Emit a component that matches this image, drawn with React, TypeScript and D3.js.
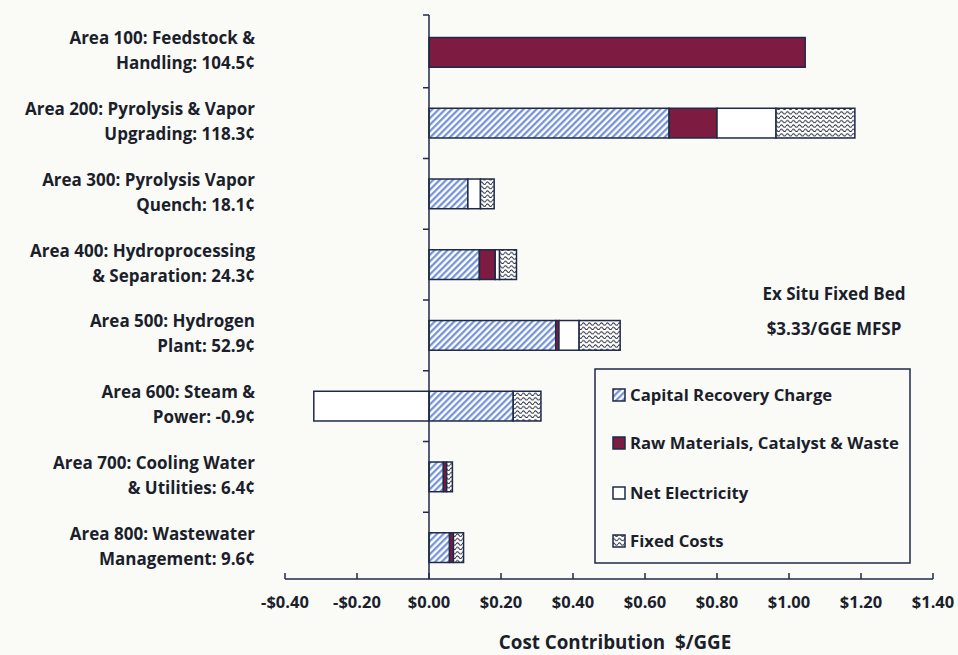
import React from "react";
import * as d3 from "d3";

const labelLine1 = [
  "Area 100: Feedstock &",
  "Area 200: Pyrolysis & Vapor",
  "Area 300: Pyrolysis Vapor",
  "Area 400: Hydroprocessing",
  "Area 500: Hydrogen",
  "Area 600: Steam &",
  "Area 700: Cooling Water",
  "Area 800: Wastewater",
];
const labelLine2 = [
  "Handling: 104.5¢",
  "Upgrading: 118.3¢",
  "Quench: 18.1¢",
  "& Separation: 24.3¢",
  "Plant: 52.9¢",
  "Power: -0.9¢",
  "& Utilities: 6.4¢",
  "Management: 9.6¢",
];
const areas = ["A100", "A200", "A300", "A400", "A500", "A600", "A700", "A800"];

const capitalRecovery = [0, 0.667, 0.108, 0.14, 0.352, 0.234, 0.04, 0.057];
const rawMaterials = [1.045, 0.133, 0, 0.044, 0.009, 0, 0.009, 0.011];
const netElectricity = [0, 0.164, 0.035, 0.012, 0.056, -0.32, 0, 0];
const fixedCosts = [0, 0.219, 0.038, 0.047, 0.114, 0.077, 0.016, 0.028];

const seriesKeys = ["capital", "raw", "net", "fixed"];
const seriesNames = [
  "Capital Recovery Charge",
  "Raw Materials, Catalyst & Waste",
  "Net Electricity",
  "Fixed Costs",
];
const xTicks = [-0.4, -0.2, 0, 0.2, 0.4, 0.6, 0.8, 1.0, 1.2, 1.4];

const NAVY = "#1e2a48";
const MAROON = "#7e1b40";
const TEXT = "#1b1f2c";
const FONT = "'Open Sans', Lato, sans-serif";

export default function App() {
  const W = 958;
  const H = 655;
  const x = d3.scaleLinear().domain([-0.4, 1.4]).range([285, 933]);
  const pad = 0.58;
  const y = d3
    .scaleBand<string>()
    .domain(areas)
    .range([17, 583])
    .paddingInner(pad)
    .paddingOuter(pad / 2);
  const axisY = 579;
  const axisTop = 15;

  const table = areas.map((a, i) => ({
    area: a,
    capital: capitalRecovery[i],
    raw: rawMaterials[i],
    net: netElectricity[i],
    fixed: fixedCosts[i],
  }));
  const stacked = d3
    .stack<any>()
    .keys(seriesKeys)
    .offset(d3.stackOffsetDiverging)(table);

  const fills: Record<string, string> = {
    capital: "url(#hatch)",
    raw: MAROON,
    net: "#ffffff",
    fixed: "url(#waves)",
  };

  const step = y.step();
  const boundaries = areas.map((a) => (y(a) as number) - (step * pad) / 2);
  const yTicks = [axisTop, ...boundaries.slice(1)];

  const legendY = [395, 443, 493, 541];

  return (
    <svg
      width={W}
      height={H}
      style={{ position: "absolute", left: 0, top: 0 }}
      fontFamily={FONT}
    >
      <defs>
        <pattern
          id="hatch"
          patternUnits="userSpaceOnUse"
          width={4.6}
          height={4.6}
          patternTransform="rotate(45)"
        >
          <rect width={4.6} height={4.6} fill="#ffffff" />
          <line x1={1.2} y1={0} x2={1.2} y2={4.6} stroke="#6a8bd4" strokeWidth={2.1} />
        </pattern>
        <pattern id="waves" patternUnits="userSpaceOnUse" width={6} height={4.4}>
          <rect width={6} height={4.4} fill="#ffffff" />
          <path
            d="M0,2.8 Q1.5,0.4 3,2.8 T6,2.8"
            fill="none"
            stroke="#23283a"
            strokeWidth={1}
          />
        </pattern>
      </defs>
      <rect width={W} height={H} fill="#fafaf7" />

      {/* bars */}
      {stacked.map((s) => (
        <g key={s.key}>
          {s.map((d, i) => {
            const w = Math.abs(x(d[1]) - x(d[0]));
            if (w < 0.01) return null;
            return (
              <rect
                key={i}
                x={Math.min(x(d[0]), x(d[1]))}
                y={y(areas[i])}
                width={w}
                height={y.bandwidth()}
                fill={fills[s.key]}
                stroke={NAVY}
                strokeWidth={1.5}
              />
            );
          })}
        </g>
      ))}

      {/* y axis */}
      <line x1={x(0)} x2={x(0)} y1={axisTop} y2={axisY} stroke={NAVY} strokeWidth={1.5} />
      {yTicks.map((t, i) => (
        <line key={i} x1={x(0) - 6} x2={x(0)} y1={t} y2={t} stroke={NAVY} strokeWidth={1.5} />
      ))}

      {/* x axis */}
      <line x1={x(-0.4)} x2={x(1.4)} y1={axisY} y2={axisY} stroke={NAVY} strokeWidth={1.5} />
      {xTicks.map((t) => (
        <g key={t}>
          <line x1={x(t)} x2={x(t)} y1={axisY} y2={axisY - 6} stroke={NAVY} strokeWidth={1.5} />
          <text
            x={x(t)}
            y={608}
            textAnchor="middle"
            fontSize={16.5}
            fontWeight={700}
            fill={TEXT}
          >
            {(t < 0 ? "-$" : "$") + d3.format(".2f")(Math.abs(t))}
          </text>
        </g>
      ))}
      <text x={615} y={649} textAnchor="middle" fontSize={18.8} fontWeight={700} fill={TEXT} style={{ whiteSpace: "pre" }}>
        Cost Contribution  $/GGE
      </text>

      {/* category labels */}
      {areas.map((a, i) => {
        const c = (y(a) as number) + y.bandwidth() / 2;
        return (
          <text
            key={a}
            textAnchor="end"
            fontSize={17}
            fontWeight={700}
            fill={TEXT}
          >
            <tspan x={255} y={c - 8}>
              {labelLine1[i]}
            </tspan>
            <tspan x={255} y={c + 17}>
              {labelLine2[i]}
            </tspan>
          </text>
        );
      })}

      {/* title */}
      <text x={834} y={300} textAnchor="middle" fontSize={17} fontWeight={700} fill={TEXT}>
        Ex Situ Fixed Bed
      </text>
      <text x={834} y={335} textAnchor="middle" fontSize={17} fontWeight={700} fill={TEXT}>
        $3.33/GGE MFSP
      </text>

      {/* legend */}
      <rect x={595} y={369} width={315} height={194} fill="none" stroke={NAVY} strokeWidth={1.5} />
      {seriesKeys.map((k, i) => (
        <g key={k}>
          <rect
            x={613}
            y={legendY[i] - 6}
            width={12}
            height={12}
            fill={fills[k]}
            stroke={NAVY}
            strokeWidth={1.5}
          />
          <text x={630} y={legendY[i] + 6} fontSize={16.7} fontWeight={700} fill={TEXT}>
            {seriesNames[i]}
          </text>
        </g>
      ))}
    </svg>
  );
}
